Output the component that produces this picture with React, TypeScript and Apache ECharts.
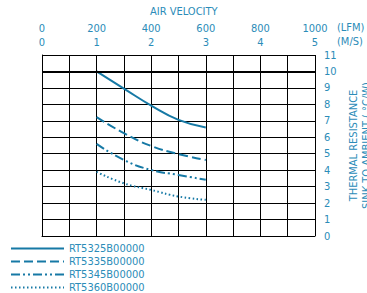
import React, { useEffect, useRef } from "react";
import * as echarts from "echarts";

const velocityMS = [1, 1.5, 2, 2.5, 3];
const seriesNames = ["RT5325B00000", "RT5335B00000", "RT5345B00000", "RT5360B00000"];
const rt5325 = [10.0, 8.96, 7.93, 7.06, 6.6];
const rt5335 = [7.22, 6.25, 5.47, 4.98, 4.62];
const rt5345 = [5.6, 4.62, 4.01, 3.71, 3.42];
const rt5360 = [3.9, 3.2, 2.8, 2.4, 2.2];
const lfmMin = 0;
const lfmMax = 1000;
const msMin = 0;
const msMax = 5;
const yMin = 0;
const yMax = 11;

const TEXT = "#2b8cb8";
const LINE = "#1679a5";
const FONT = "'DejaVu Sans Condensed', 'DejaVu Sans', sans-serif";

export default function App() {
  const ref = useRef<HTMLDivElement>(null);
  useEffect(() => {
    const chart = echarts.init(ref.current!, null, { renderer: "svg" });
    const values = [rt5325, rt5335, rt5345, rt5360];
    const dashTypes: any[] = ["solid", [9, 4], [9, 3, 2, 3, 2, 3], [1.5, 2.5]];
    chart.setOption({
      animation: false,
      textStyle: { fontFamily: FONT },
      grid: { left: 42, right: 52, top: 55, bottom: 57, outerBoundsMode: "none", containLabel: false },
      legend: {
        orient: "vertical",
        left: 10,
        top: 243,
        padding: 0,
        itemWidth: 53,
        itemHeight: 10,
        itemGap: 2,
        itemTextGap: 10,
        textStyle: { color: TEXT, fontSize: 11, fontFamily: FONT, lineHeight: 11 },
        data: seriesNames,
      },
      xAxis: [
        {
          type: "value",
          position: "top",
          min: msMin,
          max: msMax,
          interval: 1,
          axisLine: { show: true, lineStyle: { color: "#000", width: 1 } },
          axisTick: { show: false },
          axisLabel: { color: TEXT, fontSize: 11, margin: 7, fontFamily: FONT },
          splitLine: { show: true, lineStyle: { color: "#000", width: 1 } },
          minorTick: { show: false, splitNumber: 2 },
          minorSplitLine: { show: true, lineStyle: { color: "#000", width: 1 } },
        },
        {
          type: "value",
          position: "top",
          offset: 14,
          min: lfmMin,
          max: lfmMax,
          interval: 200,
          axisLine: { show: false },
          axisTick: { show: false },
          axisLabel: { color: TEXT, fontSize: 11, margin: 7, fontFamily: FONT, formatter: (v: number) => String(v) },
          splitLine: { show: false },
        },
      ],
      yAxis: {
        type: "value",
        position: "right",
        min: yMin,
        max: yMax,
        interval: 1,
        axisLine: { show: true, lineStyle: { color: "#000", width: 1 } },
        axisTick: { show: false },
        axisLabel: { color: TEXT, fontSize: 11, margin: 9, fontFamily: FONT },
        splitLine: { show: true, lineStyle: { color: "#000", width: 1 } },
        name: "THERMAL RESISTANCE\nSINK TO AMBIENT ( °C/W)",
        nameLocation: "middle",
        nameRotate: 90,
        nameGap: 29,
        nameTextStyle: { color: TEXT, fontSize: 11, lineHeight: 13, fontFamily: FONT },
      },
      graphic: [
        { type: "text", left: 150, top: 6, style: { text: "AIR VELOCITY", fill: TEXT, font: `11px ${FONT}` } },
        { type: "text", left: 337, top: 22, style: { text: "(LFM)", fill: TEXT, font: `11px ${FONT}` } },
        { type: "text", left: 337, top: 36, style: { text: "(M/S)", fill: TEXT, font: `11px ${FONT}` } },
      ],
      series: values.map((v, i) => ({
        name: seriesNames[i],
        type: "line",
        xAxisIndex: 0,
        smooth: true,
        symbol: "none",
        data: velocityMS.map((x, j) => [x, v[j]]),
        lineStyle: { color: LINE, width: 2, type: dashTypes[i] },
        itemStyle: { color: LINE, opacity: 0 },
        markLine:
          i === 0
            ? {
                silent: true,
                symbol: "none",
                label: { show: false },
                lineStyle: { color: "#000", width: 2, type: "solid", opacity: 1 },
                data: [{ yAxis: 10 }],
              }
            : undefined,
      })),
    });
    return () => chart.dispose();
  }, []);
  return <div ref={ref} style={{ width: 367, height: 293, position: "absolute", left: 0, top: 0 }} />;
}
